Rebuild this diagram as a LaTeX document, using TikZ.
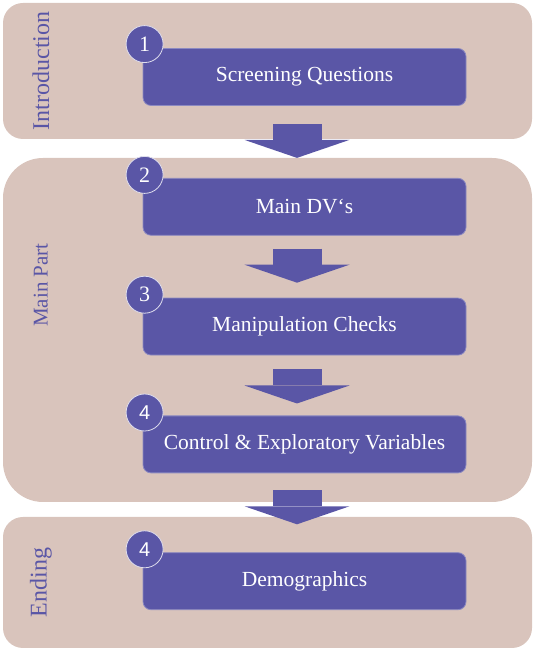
\documentclass[tikz,border=0pt]{standalone}
\usepackage{fontspec}
\setmainfont{Liberation Serif}
\newfontfamily\digitsans{Liberation Sans}
\usetikzlibrary{arrows.meta,positioning}
\definecolor{panelbg}{HTML}{D9C4BC}
\definecolor{boxblue}{HTML}{5A56A6}
\tikzset{
    %Define style for phase panels
    panel/.style={
           rectangle,
           fill=panelbg,
           minimum width=529pt,
           inner sep=0pt},
    %Define style for phase labels
    phase/.style={
           rotate=90,
           text=boxblue,
           inner sep=0pt},
    %Define style for boxes
    stepbox/.style={
           rectangle,
           rounded corners=8pt,
           draw=boxblue!70!white, line width=0.8pt,
           fill=boxblue,
           minimum width=323pt,
           minimum height=57pt,
           text=white,
           font=\fontsize{21.5}{24}\selectfont,
           text centered},
    %Define style for step numbers
    badge/.style={
           circle,
           draw=white!80!boxblue, line width=0.8pt,
           fill=boxblue,
           minimum size=37pt,
           inner sep=0pt,
           text=white,
           font=\fontsize{22}{24}\selectfont},
    % Define arrow style
    flow/.style={
           draw=boxblue,
           line width=49pt,
           -{Triangle[length=18pt,width=105pt,line width=0pt]}}
}
\begin{document}
\begin{tikzpicture}[x=1pt,y=1pt]
\useasboundingbox (0,0) rectangle (535,652);

 %panels
\node[panel, rounded corners=20pt, minimum height=136pt] (intro) at (267.5,581) {};
\node[panel, rounded corners=40pt, minimum height=344pt] (main) at (267.5,322) {};
\node[panel, rounded corners=20pt, minimum height=131pt] (ending) at (267.5,69.5) {};
\node[phase, font=\fontsize{24}{28}\selectfont] at ([xshift=38pt]intro.west) {Introduction};
\node[phase, font=\fontsize{21}{24}\selectfont] at ([xshift=38pt,yshift=45pt]main.west) {Main Part};
\node[phase, font=\fontsize{24}{28}\selectfont] at ([xshift=38pt]ending.west) {Ending};

 %steps
\node[stepbox] (screen) at (304.5,575) {Screening Questions};
\node[stepbox, below=72pt of screen] (dvs) {Main DV‘s};
\node[stepbox, below=62pt of dvs] (checks) {Manipulation Checks};
\node[stepbox, below=60pt of checks] (vars) {Control \& Exploratory Variables};
\node[stepbox, below=79pt of vars] (demo) {Demographics};

 %arrows
\draw[flow] ([xshift=-7.5pt,yshift=-18pt]screen.south) -- ++(0,-34pt);
\draw[flow] ([xshift=-7.5pt,yshift=-13pt]dvs.south) -- ++(0,-34pt);
\draw[flow] ([xshift=-7.5pt,yshift=-14pt]checks.south) -- ++(0,-34pt);
\draw[flow] ([xshift=-7.5pt,yshift=-17pt]vars.south) -- ++(0,-34pt);

 %numbers
\node[badge] at ([xshift=2pt,yshift=4pt]screen.north west) {1};
\node[badge] at ([xshift=2pt,yshift=3pt]dvs.north west) {2};
\node[badge] at ([xshift=2pt,yshift=3pt]checks.north west) {3};
\node[badge, font=\digitsans\fontsize{20}{24}\selectfont] at ([xshift=2pt,yshift=3pt]vars.north west) {4};
\node[badge, font=\digitsans\fontsize{20}{24}\selectfont] at ([xshift=2pt,yshift=3pt]demo.north west) {4};

\end{tikzpicture}
\end{document}
